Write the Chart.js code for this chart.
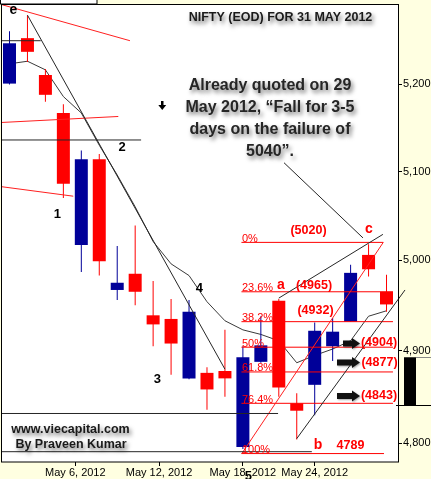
<!DOCTYPE html>
<html>
<head>
<meta charset="utf-8">
<script src="https://cdn.jsdelivr.net/npm/chart.js@4.4.1/dist/chart.umd.min.js"></script>
<style>
  html, body { margin: 0; padding: 0; background: #ffffe1; }
  #wrap { width: 431px; height: 479px; }
</style>
</head>
<body>
<div id="wrap"><canvas id="nifty" width="431" height="479"></canvas></div>
<script>
// Séances NIFTY (dates telles qu'affichées sur l'axe du graphique)
const dates = ['2012-04-30', '2012-05-02', '2012-05-03', '2012-05-04', '2012-05-07', '2012-05-08',
  '2012-05-09', '2012-05-10', '2012-05-11', '2012-05-14', '2012-05-15', '2012-05-16', '2012-05-17',
  '2012-05-18', '2012-05-21', '2012-05-22', '2012-05-23', '2012-05-24', '2012-05-25', '2012-05-28',
  '2012-05-29', '2012-05-30'];
const opens  = [5201, 5254, 5211, 5167, 5017, 5114, 4967, 4985, 4939, 4935, 4870, 4876, 4878, 4796, 4888, 4955, 4843, 4863, 4905, 4932, 5006, 4965];
const highs  = [5262, 5281, 5218, 5177, 5124, 5120, 5016, 5039, 4977, 4957, 4956, 4882, 4923, 4905, 4938, 4957, 4854, 4931, 4936, 4995, 5018, 4984];
const lows   = [5200, 5226, 5180, 5070, 4987, 4983, 4956, 4950, 4905, 4874, 4869, 4836, 4850, 4794, 4887, 4850, 4804, 4830, 4889, 4932, 4982, 4943];
const closes = [5248, 5238, 5188, 5086, 5114, 4999, 4975, 4965, 4929, 4908, 4943, 4858, 4870, 4893, 4906, 4860, 4835, 4922, 4921, 4986, 4990, 4951];
// moyenne mobile
const movingAvg = [5224, 5227, 5217, 5186, 5167, 5130, 5096, 5060, 5021, 4996, 4983, 4954, 4933, 4923, 4918, 4911, 4887, 4895, 4902, 4911, 4938, 4944];

const yTicks = [4800, 4900, 5000, 5100, 5200];
const xTickDates = ['2012-05-06', '2012-05-12', '2012-05-18', '2012-05-24'];
const xTickLabels = ['May 6, 2012', 'May 12, 2012', 'May 18, 2012', 'May 24, 2012'];

// Fibonacci
const fibLabels = ['0%', '23.6%', '38.2%', '50%', '61.8%', '76.4%', '100%'];
const fibLevels = [5020, 4965, 4932, 4904, 4877, 4843, 4789];
const fibFrom = 12.92;
const fibTo = [20.82, 21.36, 21.36, 21.36, 21.36, 21.36, 20.86];

// Lignes tracées à la main : [[index séance, prix], [index séance, prix]]
const blackLines = [
  [[-0.5, 5251], [1.74, 5251]],
  [[-0.5, 5136], [7.33, 5136]],
  [[-0.5, 4832], [14.96, 4832]],
  [[-0.5, 4791], [16.84, 4791]],
  [[1, 5281], [12, 4880]],
  [[15, 4958], [20.8, 5029]],
  [[15.29, 5110], [19.69, 5025]]
];
const supportLine = [[16, 4805], [22.03, 4967]];
const redLines = [
  [[-0.53, 5294], [6.71, 5251]],
  [[-0.53, 5156], [6.06, 5163]],
  [[-0.53, 5083], [3.55, 5072]],
  [[12.94, 4789], [20.82, 5020]]
];

const BLUE = '#000099';
const RED = '#ff0000';

// position d'une date entre deux séances
function dayIndex(dateStr) {
    const t = Date.parse(dateStr);
    for (let i = 0; i < dates.length - 1; i++) {
        const a = Date.parse(dates[i]), b = Date.parse(dates[i + 1]);
        if (t >= a && t <= b) return i + (t - a) / (b - a);
    }
    return dates.length - 1;
}
const xTickValues = xTickDates.map(dayIndex);

const candleColors = closes.map((c, i) => c >= opens[i] ? BLUE : RED);

function segDataset(seg, color, extra) {
    return Object.assign({
        type: 'line',
        data: seg.map(p => ({ x: p[0], y: p[1] })),
        borderColor: color,
        borderWidth: 1,
        pointRadius: 0,
        order: 1
    }, extra || {});
}

function shadowText(ctx, txt, x, y, font, color) {
    ctx.save();
    ctx.font = font;
    ctx.fillStyle = color;
    ctx.textAlign = 'center';
    ctx.textBaseline = 'middle';
    ctx.shadowColor = 'rgba(0,0,0,0.55)';
    ctx.shadowBlur = 4;
    ctx.shadowOffsetX = 2;
    ctx.shadowOffsetY = 3;
    ctx.fillText(txt, x, y);
    ctx.restore();
}

function plainText(ctx, txt, x, y, font, color, align) {
    ctx.save();
    ctx.font = font;
    ctx.fillStyle = color;
    ctx.textAlign = align || 'center';
    ctx.textBaseline = 'middle';
    ctx.fillText(txt, x, y);
    ctx.restore();
}

function bigArrow(ctx, x0, x1, y) {
    ctx.save();
    ctx.fillStyle = '#111';
    ctx.shadowColor = 'rgba(0,0,0,0.35)';
    ctx.shadowBlur = 2;
    ctx.shadowOffsetX = 1;
    ctx.shadowOffsetY = 1;
    ctx.beginPath();
    ctx.moveTo(x0, y - 3);
    ctx.lineTo(x1 - 8, y - 3);
    ctx.lineTo(x1 - 8, y - 5.5);
    ctx.lineTo(x1, y);
    ctx.lineTo(x1 - 8, y + 5.5);
    ctx.lineTo(x1 - 8, y + 3);
    ctx.lineTo(x0, y + 3);
    ctx.closePath();
    ctx.fill();
    ctx.restore();
}

const decorPlugin = {
    id: 'decor',
    beforeDraw(chart) {
        const { ctx, chartArea: a } = chart;
        ctx.save();
        ctx.fillStyle = '#ffffe1';
        ctx.fillRect(0, 0, chart.width, chart.height);
        ctx.fillStyle = '#ffffff';
        ctx.fillRect(a.left, a.top, a.right - a.left, a.bottom - a.top);
        ctx.restore();
    },
    afterDatasetsDraw(chart) {
        const ctx = chart.ctx;
        const xs = chart.scales.x, ys = chart.scales.y;

        // libellés Fibonacci
        ctx.save();
        ctx.font = '11px "Liberation Sans"';
        ctx.fillStyle = RED;
        ctx.textAlign = 'left';
        ctx.textBaseline = 'alphabetic';
        fibLevels.forEach((lv, k) => {
            ctx.fillText(fibLabels[k], xs.getPixelForValue(fibFrom) + 0.5, ys.getPixelForValue(lv) - 0.5);
        });
        ctx.restore();

        const tagFont = 'bold 12.5px "Liberation Sans"';
        plainText(ctx, '(5020)', 308.5, 230.5, tagFont, RED);
        plainText(ctx, '(4965)', 314, 285.5, tagFont, RED);
        plainText(ctx, '(4932)', 315.5, 311, tagFont, RED);
        plainText(ctx, '(4904)', 379, 342.5, tagFont, RED);
        plainText(ctx, '(4877)', 379.5, 362.5, tagFont, RED);
        plainText(ctx, '(4843)', 379, 396, tagFont, RED);
        plainText(ctx, '4789', 350.5, 446, tagFont, RED);
        const letterFont = 'bold 14px "Liberation Sans"';
        plainText(ctx, 'c', 369, 229.5, letterFont, RED);
        plainText(ctx, 'a', 281, 285, letterFont, RED);
        plainText(ctx, 'b', 318, 445.5, letterFont, RED);

        bigArrow(ctx, 343, 360, 343.5);
        bigArrow(ctx, 337, 360, 362.5);
        bigArrow(ctx, 337, 360, 396);

        // comptage des vagues
        const waveFont = 'bold 13px "Liberation Sans"';
        plainText(ctx, 'e', 13.5, 10, 'bold 14px "Liberation Sans"', '#000');
        plainText(ctx, '1', 57.3, 214.5, waveFont, '#000');
        plainText(ctx, '2', 122, 147, waveFont, '#000');
        plainText(ctx, '3', 157.3, 379.5, waveFont, '#000');
        plainText(ctx, '4', 199.3, 288, waveFont, '#000');

        // titre et commentaire
        shadowText(ctx, 'NIFTY (EOD) FOR 31 MAY 2012', 280.5, 17.5, 'bold 12.5px "Liberation Sans"', '#1a1a1a');
        const quoteFont = 'bold 16px "Liberation Sans"';
        shadowText(ctx, 'Already quoted on 29', 270, 86, quoteFont, '#262626');
        shadowText(ctx, 'May 2012, \u201CFall for 3-5', 270, 107.5, quoteFont, '#262626');
        shadowText(ctx, 'days on the failure of', 270, 129.5, quoteFont, '#262626');
        shadowText(ctx, '5040\u201D.', 270, 152, quoteFont, '#262626');

        shadowText(ctx, 'www.viecapital.com', 70.5, 429.5, 'bold 12.5px "Liberation Sans"', '#1a1a1a');
        shadowText(ctx, 'By Praveen Kumar', 71, 445, 'bold 12.5px "Liberation Sans"', '#1a1a1a');

        // petite flèche vers le bas
        ctx.save();
        ctx.fillStyle = '#000';
        ctx.fillRect(161, 101, 2.5, 5);
        ctx.beginPath();
        ctx.moveTo(158.3, 105);
        ctx.lineTo(166.2, 105);
        ctx.lineTo(162.25, 110);
        ctx.closePath();
        ctx.fill();
        ctx.restore();
    },
    afterDraw(chart) {
        const { ctx, chartArea: a } = chart;
        const ys = chart.scales.y;
        ctx.save();
        // cadre du graphique
        ctx.strokeStyle = '#000';
        ctx.lineWidth = 1;
        ctx.strokeRect(a.left - 0.5, a.top - 0.5, a.right - a.left + 1, a.bottom - a.top + 0.5);
        // petit cadre en haut à gauche
        ctx.fillStyle = '#fff';
        ctx.fillRect(0, 0, 97, 4);
        ctx.strokeRect(0.5, -1, 96.5, 5);
        // repère du dernier cours
        const top = ys.getPixelForValue(4893), bot = ys.getPixelForValue(4841);
        ctx.fillStyle = '#000';
        ctx.fillRect(404, top, 12, bot - top);
        ctx.beginPath();
        ctx.moveTo(396, Math.round(bot) + 0.5);
        ctx.lineTo(431, Math.round(bot) + 0.5);
        ctx.stroke();
        ctx.strokeStyle = '#888';
        ctx.beginPath();
        ctx.moveTo(416, Math.round(top) + 0.5);
        ctx.lineTo(431, Math.round(top) + 0.5);
        ctx.stroke();
        ctx.restore();
        plainText(ctx, '5', 248.3, 476, 'bold 13px "Liberation Sans"', '#000');
    }
};

const datasets = [
    {
        type: 'line',
        label: 'MA',
        data: movingAvg.map((v, i) => ({ x: i, y: v })),
        borderColor: '#3a3a3a',
        borderWidth: 1,
        pointRadius: 0,
        order: 5
    },
    {
        type: 'bar',
        label: 'wicks',
        data: highs.map((h, i) => ({ x: i, y: [lows[i], h] })),
        backgroundColor: candleColors,
        barThickness: 1,
        grouped: false,
        inflateAmount: 0,
        order: 4
    },
    {
        type: 'bar',
        label: 'bodies',
        data: opens.map((o, i) => ({ x: i, y: [o, closes[i]] })),
        backgroundColor: candleColors,
        barThickness: 13,
        grouped: false,
        inflateAmount: 0,
        order: 3
    }
];
blackLines.forEach(seg => datasets.push(segDataset(seg, '#262626')));
datasets.push(segDataset(supportLine, '#262626', { clip: false }));
redLines.forEach(seg => datasets.push(segDataset(seg, '#ff2020')));
fibLevels.forEach((lv, k) => datasets.push(segDataset([[fibFrom, lv], [fibTo[k], lv]], '#ff0000')));

const tickFont = { family: 'Liberation Sans', size: 11 };

new Chart(document.getElementById('nifty').getContext('2d'), {
    data: { datasets: datasets },
    options: {
        responsive: false,
        devicePixelRatio: 1,
        animation: false,
        layout: { padding: { left: 2, top: 5, right: 0, bottom: 0 } },
        plugins: {
            legend: { display: false },
            tooltip: { enabled: false }
        },
        scales: {
            x: {
                type: 'linear',
                position: 'bottom',
                offset: false,
                min: -0.418,
                max: 21.64,
                afterBuildTicks: s => { s.ticks = xTickValues.map(v => ({ value: v })); },
                afterFit: s => { s.height = 17; s.paddingLeft = 0; s.paddingRight = 0; },
                grid: { offset: false, drawOnChartArea: false, drawTicks: true, tickLength: 4, color: '#000' },
                border: { display: false },
                ticks: {
                    callback: (v, i) => xTickLabels[i],
                    font: tickFont,
                    color: '#000',
                    padding: 0,
                    maxRotation: 0,
                    autoSkip: false
                }
            },
            y: {
                type: 'logarithmic',
                position: 'right',
                min: 4780,
                max: 5293,
                afterBuildTicks: s => { s.ticks = yTicks.map(v => ({ value: v })); },
                afterFit: s => { s.width = 33; s.paddingTop = 0; s.paddingBottom = 0; },
                grid: { drawOnChartArea: false, drawTicks: true, tickLength: 4, color: '#000' },
                border: { display: false },
                ticks: {
                    callback: v => Number(v).toLocaleString('en-US'),
                    font: tickFont,
                    color: '#000',
                    padding: 1,
                    autoSkip: false
                }
            }
        }
    },
    plugins: [decorPlugin]
});
</script>
</body>
</html>
